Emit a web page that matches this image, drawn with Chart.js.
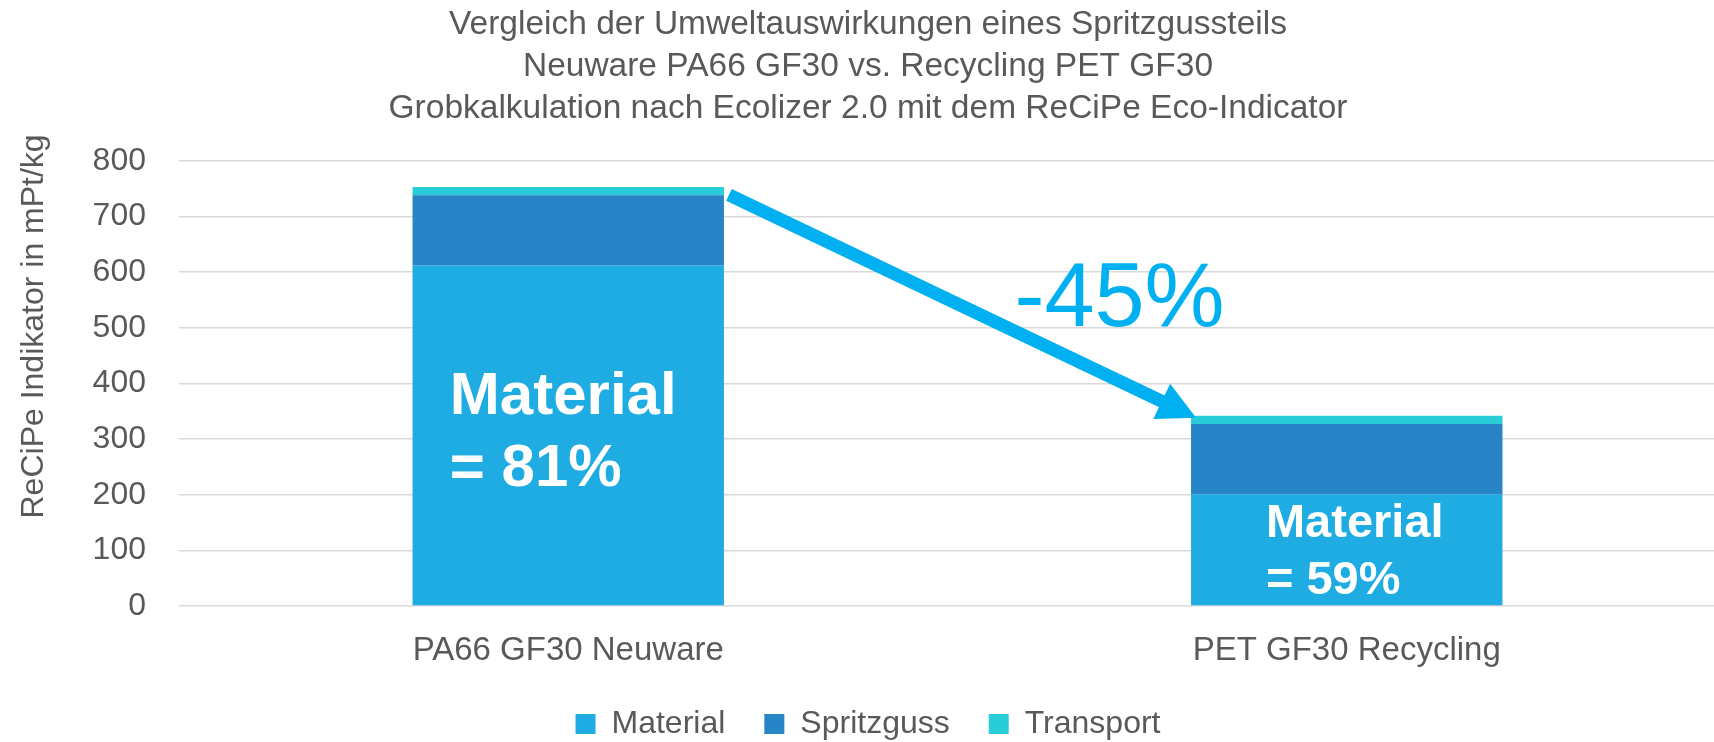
<!DOCTYPE html>
<html lang="de">
<head>
<meta charset="utf-8">
<title>Vergleich der Umweltauswirkungen eines Spritzgussteils</title>
<script src="https://cdn.jsdelivr.net/npm/chart.js@4.4.1/dist/chart.umd.min.js"></script>
<style>
  html, body { margin: 0; padding: 0; background: #fff; overflow: hidden; }
  #chart { display: block; }
</style>
</head>
<body>
<canvas id="chart" width="1736" height="742"></canvas>
<script>
// Werte (mPt/kg)
const categories = ['PA66 GF30 Neuware', 'PET GF30 Recycling'];
const seriesNames = ['Material', 'Spritzguss', 'Transport'];
const materialValues = [612, 201];
const spritzgussValues = [126, 126];
const transportValues = [15, 15];
const yTicks = [0, 100, 200, 300, 400, 500, 600, 700, 800];

const titleLines = [
  'Vergleich der Umweltauswirkungen eines Spritzgussteils',
  'Neuware PA66 GF30 vs. Recycling PET GF30',
  'Grobkalkulation nach Ecolizer 2.0 mit dem ReCiPe Eco-Indicator'
];
const yAxisLabel = 'ReCiPe Indikator in mPt/kg';
const barLabels = [['Material', '= 81%'], ['Material', '= 59%']];
const changeLabel = '-45%';

const seriesColors = ['#1EACE2', '#2784C6', '#29CDD7'];
const arrowColor = '#00B0F0';
const textColor = '#595959';
const fontFamily = '"Liberation Sans", Arial, Helvetica, sans-serif';

// Beschriftung in den Material-Balken
const barTextPlugin = {
  id: 'barText',
  afterDatasetsDraw(chart) {
    const ctx = chart.ctx;
    const sizes = [60, 47];
    const shift = [[-5, -7], [8, -1]];
    chart.getDatasetMeta(0).data.forEach((bar, i) => {
      const size = sizes[i];
      const lines = barLabels[i];
      ctx.save();
      ctx.font = `bold ${size}px ${fontFamily}`;
      ctx.fillStyle = '#ffffff';
      ctx.textAlign = 'left';
      ctx.textBaseline = 'alphabetic';
      const w = Math.max(...lines.map(l => ctx.measureText(l).width));
      const cap = size * 0.716;
      const gap = size * 1.21;
      const mid = (bar.y + bar.base) / 2 + shift[i][1];
      const x0 = bar.x - w / 2 + shift[i][0];
      let y = mid - (cap + gap) / 2 + cap;
      lines.forEach(l => { ctx.fillText(l, x0, y); y += gap; });
      ctx.restore();
    });
  }
};

// Pfeil von Balken 1 zu Balken 2 mit Prozentangabe
const arrowPlugin = {
  id: 'arrow',
  afterDatasetsDraw(chart) {
    const ctx = chart.ctx;
    const tops = chart.getDatasetMeta(2).data;
    const a = tops[0], b = tops[1];
    const x1 = a.x + a.width / 2 + 5, y1 = a.y + 8;
    const x2 = b.x - b.width / 2 + 5, y2 = b.y + 2;
    const len = Math.hypot(x2 - x1, y2 - y1);
    const ux = (x2 - x1) / len, uy = (y2 - y1) / len;
    const headLen = 38, headHalf = 19.5;
    const bx = x2 - ux * headLen, by = y2 - uy * headLen;

    ctx.save();
    ctx.strokeStyle = arrowColor;
    ctx.fillStyle = arrowColor;
    ctx.lineWidth = 13;
    ctx.lineCap = 'butt';
    ctx.beginPath();
    ctx.moveTo(x1, y1);
    ctx.lineTo(bx + ux * 2, by + uy * 2);
    ctx.stroke();
    ctx.beginPath();
    ctx.moveTo(x2, y2);
    ctx.lineTo(bx - uy * headHalf, by + ux * headHalf);
    ctx.lineTo(bx + uy * headHalf, by - ux * headHalf);
    ctx.closePath();
    ctx.fill();

    const mx = (x1 + x2) / 2, my = (y1 + y2) / 2;
    ctx.font = `90px ${fontFamily}`;
    ctx.textAlign = 'left';
    ctx.textBaseline = 'alphabetic';
    ctx.fillText(changeLabel, mx + 52, my + 20);
    ctx.restore();
  }
};

// Achsentitel (nicht mittig zur Achse, wie im Original)
const yTitlePlugin = {
  id: 'yTitle',
  afterDraw(chart) {
    const ctx = chart.ctx;
    const area = chart.chartArea;
    ctx.save();
    ctx.translate(43, (area.top + area.bottom) / 2 - 57);
    ctx.rotate(-Math.PI / 2);
    ctx.font = `32px ${fontFamily}`;
    ctx.fillStyle = textColor;
    ctx.textAlign = 'center';
    ctx.textBaseline = 'alphabetic';
    ctx.fillText(yAxisLabel, 0, 0);
    ctx.restore();
  }
};

const seriesValues = [materialValues, spritzgussValues, transportValues];

new Chart(document.getElementById('chart'), {
  type: 'bar',
  data: {
    labels: categories,
    datasets: seriesNames.map((name, i) => ({
      label: name,
      data: seriesValues[i],
      backgroundColor: seriesColors[i],
      borderWidth: 0,
      categoryPercentage: 0.8,
      barPercentage: 0.5
    }))
  },
  options: {
    responsive: false,
    animation: false,
    layout: { padding: { left: 0, right: 0, top: 0, bottom: -8 } },
    plugins: {
      title: {
        display: true,
        text: titleLines,
        color: textColor,
        font: { family: fontFamily, size: 33.5, weight: 'normal', lineHeight: 1.257 },
        padding: { top: 3.5, bottom: 31 }
      },
      legend: {
        position: 'bottom',
        labels: {
          boxWidth: 20,
          boxHeight: 20,
          padding: 39,
          color: textColor,
          font: { family: fontFamily, size: 32 }
        }
      },
      tooltip: { enabled: false }
    },
    scales: {
      x: {
        stacked: true,
        afterFit(scale) { scale.height = 63; },
        grid: { display: false, drawTicks: false },
        border: { display: false },
        ticks: {
          color: textColor,
          padding: 25,
          font: { family: fontFamily, size: 33 }
        }
      },
      y: {
        stacked: true,
        min: yTicks[0],
        max: yTicks[yTicks.length - 1],
        afterFit(scale) { scale.width = 179; },
        grid: { color: '#D9D9D9', lineWidth: 1.5, drawTicks: false },
        border: { display: false },
        ticks: {
          stepSize: yTicks[1] - yTicks[0],
          color: textColor,
          padding: 33,
          font: { family: fontFamily, size: 32 }
        }
      }
    }
  },
  plugins: [barTextPlugin, arrowPlugin, yTitlePlugin]
});
</script>
</body>
</html>
